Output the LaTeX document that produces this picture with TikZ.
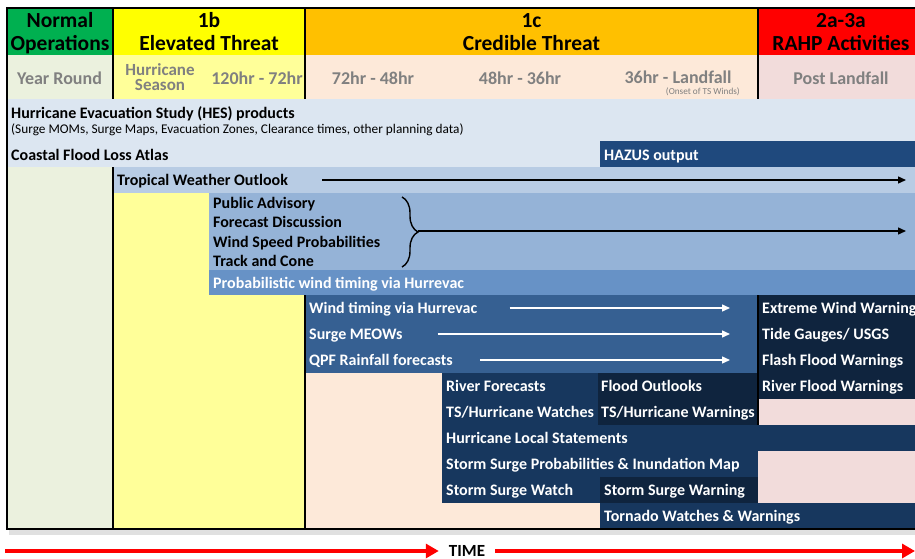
\documentclass[tikz,border=0pt]{standalone}
\usepackage{fontspec}
\setmainfont{Carlito}
\usetikzlibrary{arrows.meta, positioning, calc, decorations.pathreplacing}
\definecolor{hNormal}{RGB}{0, 176, 80}
\definecolor{hElev}{RGB}{255, 255, 0}
\definecolor{hCred}{RGB}{255, 192, 0}
\definecolor{hRahp}{RGB}{255, 0, 0}
\definecolor{cNormal}{RGB}{235, 241, 222}
\definecolor{cElev}{RGB}{255, 255, 153}
\definecolor{cCred}{RGB}{253, 233, 217}
\definecolor{cRahp}{RGB}{242, 220, 219}
\definecolor{tGray}{RGB}{128, 128, 128}
\definecolor{bHes}{RGB}{220, 230, 241}
\definecolor{bOutlook}{RGB}{184, 204, 228}
\definecolor{bAdv}{RGB}{149, 179, 215}
\definecolor{bProb}{RGB}{103, 146, 198}
\definecolor{bTiming}{RGB}{54, 96, 146}
\definecolor{bHazus}{RGB}{31, 73, 125}
\definecolor{bNavy}{RGB}{23, 55, 94}
\definecolor{bDeep}{RGB}{15, 36, 62}

\begin{document}
\begin{tikzpicture}[
    x=1pt, y=-1pt,
    font=\bfseries,
    phase/.style={align=center, inner sep=0pt, font=\bfseries\fontsize{21.5}{23}\selectfont},
    frame/.style={align=center, inner sep=0pt, text=tGray, font=\bfseries\fontsize{18}{18}\selectfont},
    entry/.style={anchor=west, inner sep=0pt, text height=11pt, text depth=1pt,
        font=\bfseries\fontsize{16}{18}\selectfont},
    entrylight/.style={entry, text=white},
    rule/.style={line width=1.6pt, black},
    flow/.style={-{Triangle[length=8pt, width=7pt]}, line width=1.4pt, #1},
    timeline/.style={-{Triangle[length=13pt, width=14pt]}, line width=4.5pt, red}
]
\useasboundingbox (0,0) rectangle (915,559);

% Column backgrounds
\fill[cNormal] (7,55) rectangle (113,529);
\fill[cElev] (113,55) rectangle (305,529);
\fill[cCred] (305,55) rectangle (758,529);
\fill[cRahp] (758,55) rectangle (925,529);
\fill[black!12] (9,529) rectangle (925,535);

% Phase headers
\fill[hNormal] (7,8) rectangle (113,55);
\fill[hElev] (113,8) rectangle (305,55);
\fill[hCred] (305,8) rectangle (758,55);
\fill[hRahp] (758,8) rectangle (925,55);

% Product bands
\fill[bHes] (7,99) rectangle (925,167);
\fill[bHazus] (600,141) rectangle (925,167);
\fill[bOutlook] (113,167) rectangle (925,193);
\fill[bAdv] (209,193) rectangle (925,270);
\fill[bProb] (209,270) rectangle (925,295);
\fill[bTiming] (305,295) rectangle (758,373);
\fill[bDeep] (758,295) rectangle (925,399);
\fill[bNavy] (442,373) rectangle (598,425);
\fill[bDeep] (598,373) rectangle (758,425);
\fill[bNavy] (442,425) rectangle (925,451);
\fill[bNavy] (442,451) rectangle (758,477);
\fill[bNavy] (442,477) rectangle (600,503);
\fill[bDeep] (600,477) rectangle (758,503);
\fill[bNavy] (600,503) rectangle (925,529);

% Grid lines
\draw[rule] (7,8) rectangle (925,529);
\draw[rule] (113,8) -- (113,99) (113,167) -- (113,529);
\draw[rule] (305,8) -- (305,99) (305,295) -- (305,529);
\draw[rule] (758,8) -- (758,99) (758,295) -- (758,425);

% Header texts
\node[phase] (normal) at (60,33.5) {Normal\\Operations};
\node[phase] (elevated) at (209,32) {1b\\Elevated Threat};
\node[phase] (credible) at (531.5,32) {1c\\Credible Threat};
\node[phase] (rahp) at (841,32) {2a-3a\\RAHP Activities};

\node[frame] (year) at (59.5,78) {Year Round};
\node[frame, font=\bfseries\fontsize{17}{15}\selectfont] (season) at (160,77.5) {Hurricane\\Season};
\node[frame] (t120) at (257,78) {120hr - 72hr};
\node[frame] (t72) at (373,78) {72hr - 48hr};
\node[frame] (t48) at (520,78) {48hr - 36hr};
\node[frame] (t36) at (678,77) {36hr - Landfall};
\node[anchor=east, inner sep=0pt, text=tGray, font=\fontsize{9.2}{10}\selectfont] (onset) at (740,91.5) {(Onset of TS Winds)};
\node[frame] (post) at (841,78) {Post Landfall};

% Planning products
\node[entry] (hes) at (11,113) {Hurricane Evacuation Study (HES) products};
\node[anchor=west, inner sep=0pt, font=\fontsize{13.3}{15}\selectfont] (hesdata) at (11,130)
    {(Surge MOMs, Surge Maps, Evacuation Zones, Clearance times, other planning data)};
\node[entry] (atlas) at (11,155) {Coastal Flood Loss Atlas};
\node[entrylight] (hazus) at (604,155) {HAZUS output};

% NHC products
\node[entry] (outlook) at (117,180) {Tropical Weather Outlook};
\node[entry] (advisory) at (213,203) {Public Advisory};
\node[entry] (discussion) at (213,222) {Forecast Discussion};
\node[entry] (windprob) at (213,242) {Wind Speed Probabilities};
\node[entry] (cone) at (213,261) {Track and Cone};
\node[entrylight] (probtiming) at (213,283) {Probabilistic wind timing via Hurrevac};

\node[entrylight] (timing) at (309,308) {Wind timing via Hurrevac};
\node[entrylight] (meows) at (309,334) {Surge MEOWs};
\node[entrylight] (qpf) at (309,360) {QPF Rainfall forecasts};

% Watches and warnings
\node[entrylight] (river) at (446,386) {River Forecasts};
\node[entrylight] (tswatch) at (446,412) {TS/Hurricane Watches};
\node[entrylight] (statements) at (446,438) {Hurricane Local Statements};
\node[entrylight] (ssprob) at (446,464) {Storm Surge Probabilities \& Inundation Map};
\node[entrylight] (sswatch) at (446,490) {Storm Surge Watch};
\node[entrylight] (outlooks) at (601,386) {Flood Outlooks};
\node[entrylight] (tswarn) at (601,412) {TS/Hurricane Warnings};
\node[entrylight] (sswarn) at (604,490) {Storm Surge Warning};
\node[entrylight] (tornado) at (604,516) {Tornado Watches \& Warnings};
\node[entrylight] (extreme) at (762,308) {Extreme Wind Warning};
\node[entrylight] (gauges) at (762,334) {Tide Gauges/ USGS};
\node[entrylight] (flash) at (762,360) {Flash Flood Warnings};
\node[entrylight] (riverwarn) at (762,386) {River Flood Warnings};

% Arrows
\coordinate (outlookEnd) at (906,180);
\coordinate (brace) at (418,231);
\coordinate (advEnd) at (906,231);
\coordinate (timingEnd) at (730,308);

\draw[line width=1.4pt, decorate, decoration={brace, amplitude=16pt}] (402,197) -- (402,267);
\draw[flow=black] ([xshift=34pt]outlook.east) -- (outlookEnd);
\draw[flow=black] (brace) -- (advEnd);
\draw[flow=white] ([xshift=32pt]timing.east) -- (timingEnd);
\draw[flow=white] ([xshift=35pt]meows.east) -- (meows.east -| timingEnd);
\draw[flow=white] ([xshift=27pt]qpf.east) -- (qpf.east -| timingEnd);

% Time axis
\node[inner xsep=10pt, font=\bfseries\fontsize{17}{17}\selectfont] (time) at (467,551) {TIME};
\coordinate (timeStart) at (5,551);
\coordinate (timeEnd) at (915,551);
\draw[timeline] (timeStart) -- (time.west);
\draw[timeline] (time.east) -- (timeEnd);

\end{tikzpicture}
\end{document}
